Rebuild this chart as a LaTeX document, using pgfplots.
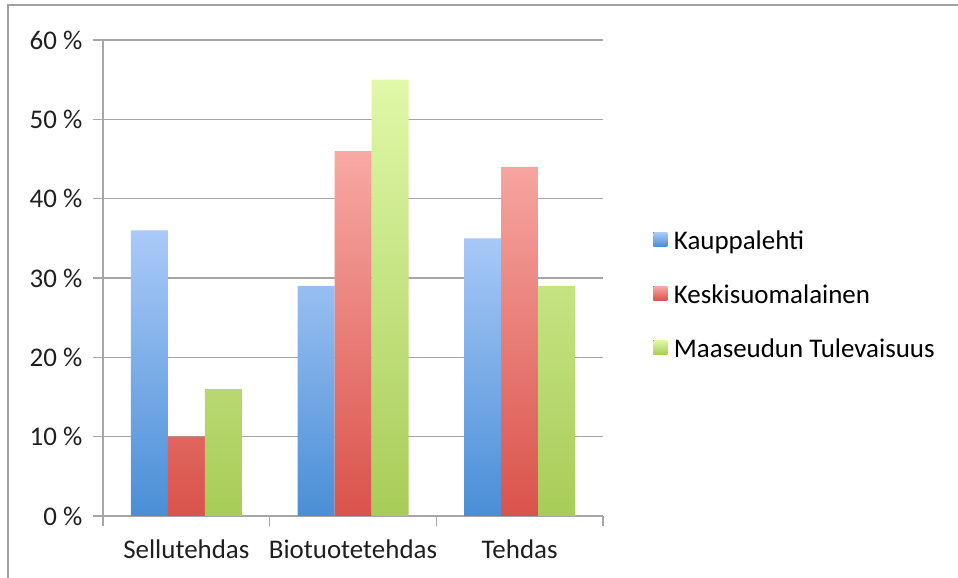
\documentclass[border=0pt]{standalone}
\usepackage{pgfplots}
\pgfplotsset{compat=1.18}
\usepackage{fontspec}
\setmainfont{Carlito}
\definecolor{gridgray}{HTML}{A6A6A6}
\definecolor{frame}{HTML}{A0A0A0}
\definecolor{bluetop}{HTML}{AACAF8}
\definecolor{bluebot}{HTML}{4A8ED6}
\definecolor{redtop}{HTML}{F8A8A4}
\definecolor{redbot}{HTML}{D9534B}
\definecolor{greentop}{HTML}{E0F8A8}
\definecolor{greenbot}{HTML}{A8CC58}
\newcommand{\cf}{\fontsize{20.2}{24}\selectfont}
\begin{document}
\begin{tikzpicture}
\useasboundingbox (-77.25pt,-46.5pt) rectangle (641.25pt,387pt);
\begin{axis}[
  at={(0,0)}, anchor=south west,
  scale only axis,
  width=375pt, height=357pt,
  ybar=0pt,
  bar width=0.222,
  xmin=-0.5, xmax=2.5,
  ymin=0, ymax=60,
  xtick={-0.5,0.5,1.5,2.5},
  x tick label as interval,
  xticklabels={Sellutehdas,Biotuotetehdas,Tehdas},
  ytick={0,10,20,30,40,50,60},
  yticklabels={0 \%,10 \%,20 \%,30 \%,40 \%,50 \%,60 \%},
  axis lines*=left,
  axis line style={gridgray, line width=1.1pt},
  tick align=outside,
  major tick length=7.5pt,
  tick style={gridgray, line width=1.1pt},
  ymajorgrids,
  grid style={gridgray, line width=1.1pt},
  tick label style={font=\cf, text=black!88},
  yticklabel style={xshift=-4.5pt},
  xticklabel style={yshift=-6.5pt},
  legend style={at={(1.1,0.46)}, anchor=west, draw=none, fill=none,
    font=\cf, row sep=19.5pt, inner sep=0pt,
    nodes={inner sep=2pt, text height=13pt, text depth=4pt, anchor=west}},
  legend cell align=left,
  legend image code/.code={\fill[#1] (0pt,-2.5pt) rectangle (10.5pt,8pt);},
  clip=false,
]
\addplot[draw=none, top color=bluetop, bottom color=bluebot] coordinates {(0,36) (1,29) (2,35)};
\addplot[draw=none, top color=redtop, bottom color=redbot] coordinates {(0,10) (1,46) (2,44)};
\addplot[draw=none, top color=greentop, bottom color=greenbot] coordinates {(0,16) (1,55) (2,29)};
\legend{\hspace{3pt}Kauppalehti,\hspace{3pt}Keskisuomalainen,\hspace{3pt}Maaseudun Tulevaisuus}
\end{axis}
\draw[frame, line width=1.3pt] (-71.25pt,-46.5pt) -- (-71.25pt,383.25pt) -- (641.25pt,383.25pt);
\end{tikzpicture}
\end{document}
